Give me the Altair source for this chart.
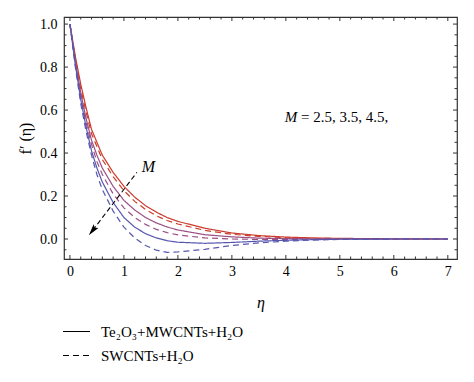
import altair as alt
import pandas as pd

# ---- data ----
eta = [0, 0.1, 0.2, 0.3, 0.4, 0.5, 0.6, 0.8, 1.0, 1.2, 1.4, 1.6, 1.8, 2.0,
       2.5, 3.0, 3.5, 4.0, 4.5, 5.0, 6.0, 7.0]

te_m25 = [1.0, 0.85, 0.72, 0.61, 0.51, 0.45, 0.39, 0.31, 0.245, 0.195, 0.155, 0.125, 0.10, 0.082,
          0.05, 0.028, 0.016, 0.009, 0.005, 0.003, 0.001, 0.0]
sw_m25 = [1.0, 0.84, 0.70, 0.59, 0.49, 0.43, 0.37, 0.29, 0.225, 0.175, 0.138, 0.108, 0.086, 0.07,
          0.04, 0.022, 0.012, 0.006, 0.003, 0.002, 0.0, 0.0]
te_m35 = [1.0, 0.83, 0.68, 0.56, 0.46, 0.39, 0.33, 0.245, 0.18, 0.135, 0.10, 0.075, 0.056, 0.042,
          0.02, 0.01, 0.004, 0.002, 0.001, 0.0, 0.0, 0.0]
sw_m35 = [1.0, 0.82, 0.66, 0.54, 0.44, 0.36, 0.30, 0.21, 0.145, 0.10, 0.068, 0.045, 0.03, 0.019,
          0.005, 0.0, -0.002, -0.002, -0.001, -0.001, 0.0, 0.0]
te_m45 = [1.0, 0.81, 0.65, 0.52, 0.41, 0.33, 0.265, 0.17, 0.10, 0.055, 0.025, 0.005, -0.008, -0.015,
          -0.02, -0.016, -0.01, -0.006, -0.003, -0.001, 0.0, 0.0]
sw_m45 = [1.0, 0.80, 0.63, 0.50, 0.39, 0.30, 0.23, 0.13, 0.055, 0.005, -0.03, -0.052, -0.062, -0.06,
          -0.048, -0.03, -0.018, -0.01, -0.005, -0.002, 0.0, 0.0]

materials = ["Te\u2082O\u2083+MWCNTs+H\u2082O", "SWCNTs+H\u2082O"]
m_values = ["2.5", "3.5", "4.5"]
m_colors = ["#cc3b2b", "#9a4f86", "#5757b0"]

series = [
    (materials[0], "2.5", te_m25), (materials[1], "2.5", sw_m25),
    (materials[0], "3.5", te_m35), (materials[1], "3.5", sw_m35),
    (materials[0], "4.5", te_m45), (materials[1], "4.5", sw_m45),
]

x_major = [0, 1, 2, 3, 4, 5, 6, 7]
x_minor = [round(i * 0.2, 2) for i in range(0, 36) if i % 5 != 0]
y_major = [0.0, 0.2, 0.4, 0.6, 0.8, 1.0]
y_minor = [round(-0.05 + i * 0.05, 2) for i in range(0, 22) if round((-0.05 + i * 0.05) / 0.2, 6) % 1 != 0]

arrow_eta = [1.24, 0.42]
arrow_f = [0.31, 0.04]
arrow_head = {"eta": 0.42, "f": 0.04}

labels_M = pd.DataFrame({"eta": [1.33], "f": [0.335], "t": ["M"]})
note_M = pd.DataFrame({"eta": [3.98], "f": [0.567], "t": ["M"]})
note_rest = pd.DataFrame({"eta": [4.28], "f": [0.567], "t": ["= 2.5, 3.5, 4.5,"]})

W, H = 393, 242
XD = [-0.11, 7.17]
YD = [-0.093, 1.033]
FONT = "Liberation Serif"

rows = []
for mat, m, vals in series:
    for e, v in zip(eta, vals):
        rows.append({"eta": e, "f": v, "M": m, "material": mat})
df = pd.DataFrame(rows)

xs = alt.Scale(domain=XD, nice=False, zero=False)
ys = alt.Scale(domain=YD, nice=False, zero=False)

xaxis = alt.Axis(title="\u03b7", values=x_major, ticks=False, tickSize=0, domain=False,
                 grid=False, labelPadding=5, titlePadding=16, titleFontStyle="italic",
                 labelFont=FONT, labelFontSize=14, labelColor="black",
                 titleFont=FONT, titleFontSize=16, titleColor="black", titleFontWeight="normal")
yaxis = alt.Axis(title="f\u2032 (\u03b7)", values=y_major, format=".1f", ticks=False,
                 tickSize=0, domain=False, grid=False, labelPadding=7, titlePadding=6,
                 labelFont=FONT, labelFontSize=14, labelColor="black",
                 titleFont=FONT, titleFontSize=16, titleColor="black", titleFontWeight="normal")


def X(field):
    return alt.X(field, scale=xs, axis=xaxis)


def Y(field):
    return alt.Y(field, scale=ys, axis=yaxis)


curves = alt.Chart(df).mark_line(strokeWidth=1.2).encode(
    x=X("eta:Q"),
    y=Y("f:Q"),
    color=alt.Color("M:N", scale=alt.Scale(domain=m_values, range=m_colors), legend=None),
    strokeDash=alt.StrokeDash("material:N",
                              scale=alt.Scale(domain=materials, range=[[1, 0], [6, 4]]),
                              legend=alt.Legend(title=None, orient="none", legendX=-2, legendY=300,
                                                symbolType="stroke", symbolStrokeColor="black",
                                                symbolStrokeWidth=1.2, symbolSize=729,
                                                labelFont=FONT, labelFontSize=15,
                                                labelColor="black", rowPadding=1,
                                                labelOffset=10)),
    detail="material:N",
)

arrow_df = pd.DataFrame({"eta": arrow_eta, "f": arrow_f})
arrow_line = alt.Chart(arrow_df).mark_line(color="black", strokeWidth=1.1, strokeDash=[5, 3]).encode(
    x=X("eta:Q"), y=Y("f:Q"))
arrow_tip = alt.Chart(pd.DataFrame([arrow_head])).mark_point(
    shape="M0,-1L0.5,0.9L0,0.55L-0.5,0.9Z", filled=True, color="black", opacity=1,
    size=150, angle=218).encode(x=X("eta:Q"), y=Y("f:Q"))


def text_layer(d, size, italic):
    kw = {"fontStyle": "italic"} if italic else {}
    return alt.Chart(d).mark_text(font=FONT, fontSize=size, align="left", baseline="middle",
                                  color="black", **kw).encode(
        x=X("eta:Q"), y=Y("f:Q"), text="t:N")


txt_M = text_layer(labels_M, 16, True)
txt_n1 = text_layer(note_M, 15, True)
txt_n2 = text_layer(note_rest, 15, False)


def xticks(vals, length):
    d = pd.DataFrame({"eta": vals})
    b = alt.Chart(d).mark_rule(color="#333", strokeWidth=1).encode(
        x=X("eta:Q"), y=alt.value(H), y2=alt.value(H - length))
    t = alt.Chart(d).mark_rule(color="#333", strokeWidth=1).encode(
        x=X("eta:Q"), y=alt.value(0), y2=alt.value(length))
    return [b, t]


def yticks(vals, length):
    d = pd.DataFrame({"f": vals})
    l = alt.Chart(d).mark_rule(color="#333", strokeWidth=1).encode(
        y=Y("f:Q"), x=alt.value(0), x2=alt.value(length))
    r = alt.Chart(d).mark_rule(color="#333", strokeWidth=1).encode(
        y=Y("f:Q"), x=alt.value(W), x2=alt.value(W - length))
    return [l, r]


layers = [curves] + xticks(x_major, 4) + xticks(x_minor, 2.5) + yticks(y_major, 4) + \
    yticks(y_minor, 2.5) + [arrow_line, arrow_tip, txt_M, txt_n1, txt_n2]

chart = alt.layer(*layers).properties(
    width=W, height=H,
    background="white",
    autosize=alt.AutoSizeParams(type="none"),
    padding={"left": 56, "top": 9, "right": 9, "bottom": 115},
).configure_view(stroke="#333", strokeWidth=1.2)

chart.save("out.html", embed_options={"renderer": "svg", "actions": False})
